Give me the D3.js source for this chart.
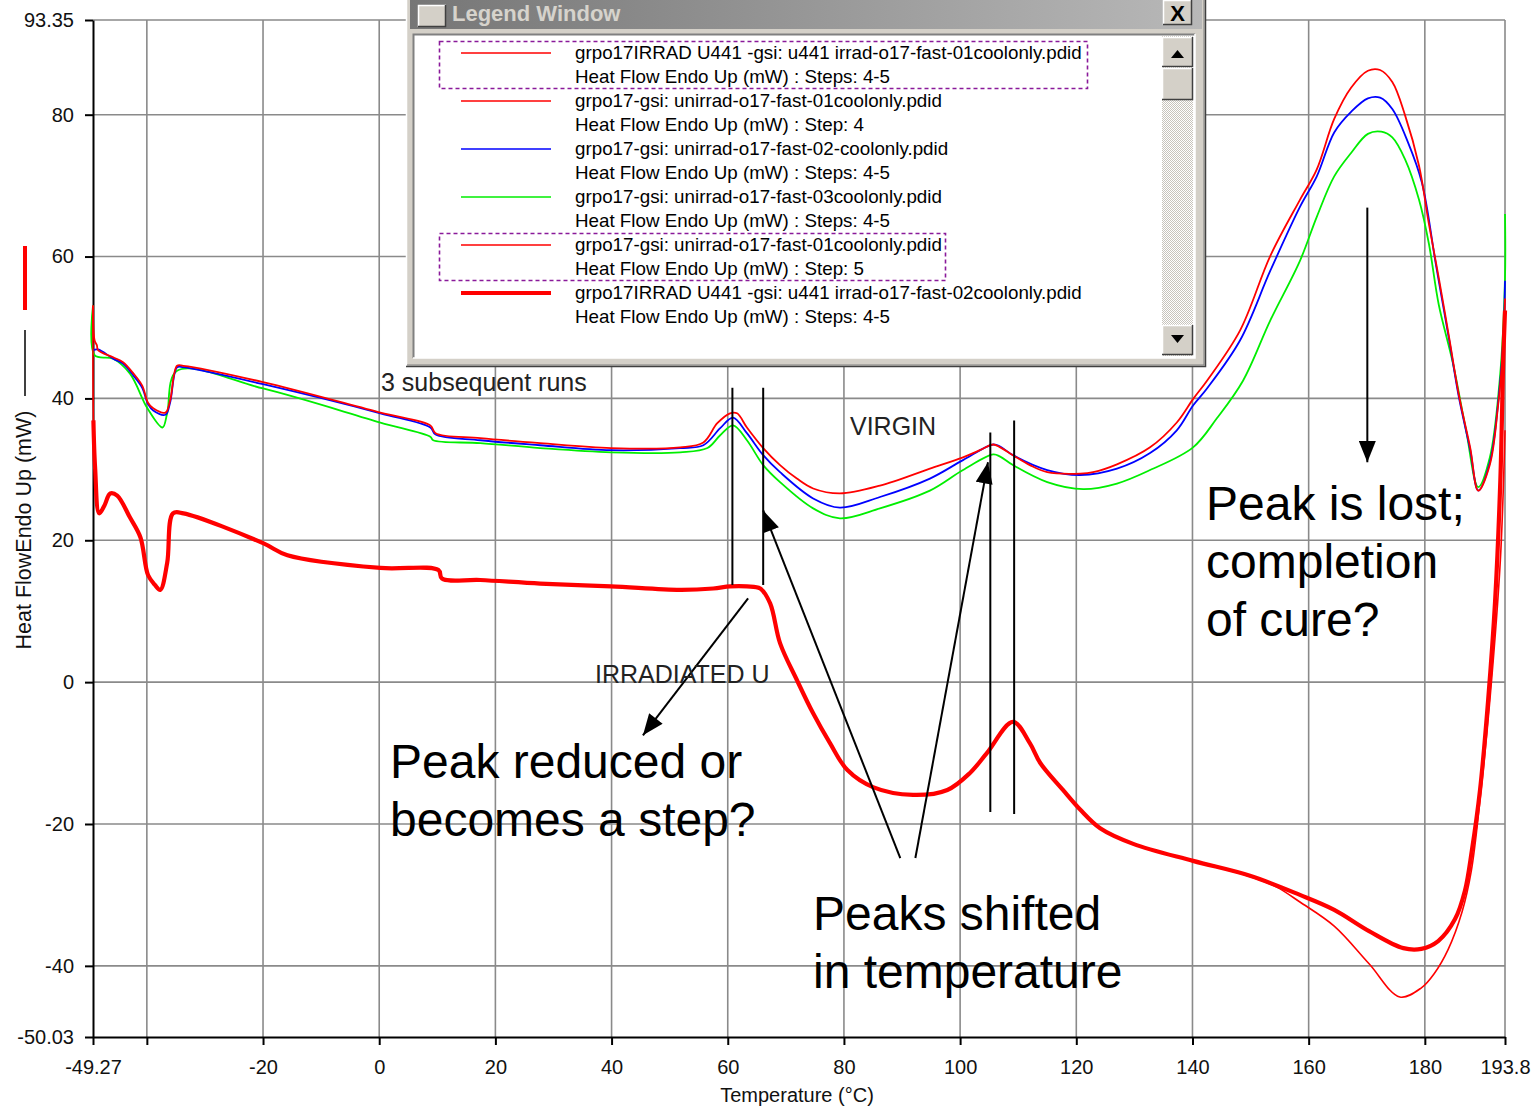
<!DOCTYPE html>
<html><head><meta charset="utf-8">
<script src="https://cdn.jsdelivr.net/npm/d3@7"></script>
<style>
html,body{margin:0;padding:0;background:#fff;}
svg{display:block;}
text{font-family:"Liberation Sans",Arial,sans-serif;}
</style></head>
<body>
<svg id="chart" width="1532" height="1107"></svg>
<script>
// ---------------- DATA ----------------
const xTickValues = [-49.27, -40, -20, 0, 20, 40, 60, 80, 100, 120, 140, 160, 180, 193.8];
const xTickLabels = ["-49.27", "", "-20", "0", "20", "40", "60", "80", "100", "120", "140", "160", "180", "193.8"];
const yTickValues = [-50.03, -40, -20, 0, 20, 40, 60, 80, 93.35];
const yTickLabels = ["-50.03", "-40", "-20", "0", "20", "40", "60", "80", "93.35"];

// [Temperature (°C), Heat Flow (mW)]
const virgin01Step4 = [[-49.27,53.1],[-49.0,48.2],[-48.6,47.5],[-48.4,46.8],[-45.8,45.8],[-44.1,45.1],[-42.3,43.5],[-40.8,41.8],[-39.8,39.4],[-38.9,38.6],[-36.8,38.0],[-36.0,39.7],[-34.8,44.6],[-33.7,44.6],[-20.0,42.3],[0.2,38.0],[8.8,36.2],[9.7,35.1],[17.4,34.4],[27.7,33.7],[39.9,33.0],[51.8,33.1],[55.8,33.8],[58.2,36.5],[60.4,37.9],[61.6,37.9],[63.3,35.9],[66.1,33.0],[69.0,30.6],[71.9,28.7],[74.7,27.3],[79.3,26.6],[86.2,27.7],[94.8,30.1],[100.5,31.7],[103.4,32.7],[105.7,33.5],[106.9,33.1],[109.1,32.0],[112.0,30.6],[115.0,29.6],[120.7,29.4],[122.9,29.6],[127.0,30.7],[132.7,33.1],[137.3,36.6],[140.1,39.9],[142.5,42.5],[148.2,49.6],[153.4,60.1],[158.5,68.0],[161.4,72.3],[164.4,79.4],[167.3,83.8],[170.2,86.2],[172.3,86.3],[174.4,84.6],[176.6,79.9],[179.0,72.8],[180.7,64.6],[182.4,57.0],[184.2,48.5],[185.9,40.3],[187.8,33.1],[189.2,27.0],[191.2,30.7],[192.6,38.9],[193.5,47.5],[193.8,54.1]];
const virgin02 = [[-49.27,46.8],[-48.4,46.9],[-45.8,45.6],[-44.1,44.9],[-42.3,43.2],[-40.8,41.5],[-39.8,39.2],[-38.9,38.3],[-36.8,37.7],[-36.0,39.4],[-34.8,44.4],[-33.7,44.4],[-20.0,42.0],[0.2,37.9],[8.8,35.9],[9.7,34.9],[17.4,34.1],[27.7,33.4],[39.9,32.7],[51.8,33.0],[55.8,33.4],[58.7,35.8],[60.9,37.3],[63.3,35.1],[66.1,32.0],[69.0,29.6],[74.7,25.9],[79.3,24.6],[86.2,26.1],[94.8,28.7],[100.5,31.3],[105.7,33.5],[106.9,33.2],[109.1,32.0],[115.0,29.9],[120.7,29.2],[127.0,30.1],[132.7,32.3],[137.3,35.5],[140.1,39.0],[142.5,41.4],[148.2,48.2],[153.4,58.0],[158.5,67.0],[161.4,71.3],[164.4,77.5],[167.3,80.4],[170.2,82.3],[172.3,82.4],[174.4,80.8],[177.1,76.1],[179.5,70.4],[181.9,58.9],[184.2,48.2],[185.9,40.0],[187.8,32.8],[189.2,27.0],[191.2,31.0],[192.6,39.2],[193.5,48.2],[193.8,56.6]];
const virgin03 = [[-49.27,53.1],[-49.0,46.1],[-45.8,45.6],[-42.9,43.5],[-39.9,38.6],[-37.3,35.9],[-36.5,37.9],[-34.8,43.9],[-20.0,41.4],[0.2,36.6],[8.8,34.6],[9.3,34.1],[17.4,33.7],[27.7,33.0],[39.9,32.4],[51.8,32.4],[56.5,33.0],[58.7,34.8],[60.9,36.2],[63.3,34.1],[66.1,30.6],[69.0,28.2],[74.7,24.5],[79.3,23.1],[86.2,24.5],[94.8,27.0],[100.5,29.9],[105.7,32.1],[106.9,31.8],[109.1,30.6],[115.0,28.2],[121.2,27.2],[127.0,28.0],[132.7,29.9],[140.1,33.1],[144.2,37.2],[148.7,42.5],[153.4,51.0],[158.5,59.4],[161.4,65.6],[164.4,71.3],[167.3,74.6],[170.2,77.3],[172.5,77.6],[174.4,76.8],[176.6,73.7],[179.0,68.0],[180.7,61.8],[182.4,53.2],[184.8,45.1],[187.1,35.5],[189.2,27.5],[191.2,31.7],[192.9,42.7],[193.8,57.0],[193.8,66.0]];
const irrad01 = [[-49.27,53.1],[-49.2,36.9],[-48.9,30.1],[-48.2,23.8],[-47.3,24.9],[-46.3,26.6],[-45.1,26.3],[-42.9,23.2],[-41.1,20.4],[-39.8,15.1],[-38.6,13.7],[-37.7,13.0],[-36.5,16.8],[-35.5,23.8],[-33.7,23.8],[-20.0,19.6],[-15.8,17.9],[0.2,16.1],[10.2,15.8],[10.8,14.6],[17.4,14.4],[27.7,13.9],[39.9,13.5],[51.8,13.0],[57.5,13.2],[60.4,13.5],[63.3,13.5],[65.6,13.2],[67.3,11.1],[69.0,5.5],[71.9,0.3],[74.7,-4.4],[77.6,-8.6],[80.6,-12.4],[85.0,-14.8],[91.9,-15.9],[97.8,-15.2],[101.7,-12.8],[104.6,-10.0],[109.1,-5.6],[112.0,-8.6],[113.8,-11.4],[117.7,-15.2],[120.7,-18.0],[124.1,-20.6],[129.8,-22.8],[140.1,-25.2],[149.9,-27.4],[154.5,-28.9],[158.5,-31.0],[164.4,-34.4],[170.4,-39.7],[175.7,-44.4],[179.4,-43.1],[181.6,-41.1],[184.0,-37.7],[186.4,-32.4],[188.0,-26.6],[189.5,-16.6],[191.2,-2.5],[193.0,17.2],[193.8,35.5]];
const irrad02 = [[-49.2,36.9],[-48.9,30.1],[-48.2,23.8],[-47.3,24.9],[-46.3,26.6],[-45.1,26.3],[-42.9,23.2],[-41.1,20.4],[-39.8,15.1],[-38.6,13.7],[-37.7,13.0],[-36.5,16.8],[-35.5,23.8],[-33.7,23.8],[-20.0,19.6],[-15.8,17.9],[0.2,16.1],[10.2,15.8],[10.8,14.6],[17.4,14.4],[27.7,13.9],[39.9,13.5],[51.8,13.0],[57.5,13.2],[60.4,13.5],[63.3,13.5],[65.6,13.2],[67.3,11.1],[69.0,5.5],[71.9,0.3],[74.7,-4.4],[77.6,-8.6],[80.6,-12.4],[85.0,-14.8],[91.9,-15.9],[97.8,-15.2],[101.7,-12.8],[104.6,-10.0],[109.1,-5.6],[112.0,-8.6],[113.8,-11.4],[117.7,-15.2],[120.7,-18.0],[124.1,-20.6],[129.8,-22.8],[140.1,-25.2],[149.9,-27.3],[158.5,-30.0],[164.4,-32.1],[170.4,-35.1],[176.3,-37.5],[179.4,-37.6],[182.3,-36.5],[185.2,-33.4],[186.9,-29.4],[188.1,-23.7],[189.5,-15.2],[190.9,-2.5],[192.1,11.5],[193.0,28.5],[193.5,45.4],[193.8,52.4]];

const legendNames = [
  "grpo17IRRAD U441 -gsi: u441 irrad-o17-fast-01coolonly.pdid",
  "grpo17-gsi: unirrad-o17-fast-01coolonly.pdid",
  "grpo17-gsi: unirrad-o17-fast-02-coolonly.pdid",
  "grpo17-gsi: unirrad-o17-fast-03coolonly.pdid",
  "grpo17-gsi: unirrad-o17-fast-01coolonly.pdid",
  "grpo17IRRAD U441 -gsi: u441 irrad-o17-fast-02coolonly.pdid"];
const legendSteps = [
  "Heat Flow Endo Up (mW) : Steps: 4-5",
  "Heat Flow Endo Up (mW) : Step: 4",
  "Heat Flow Endo Up (mW) : Steps: 4-5",
  "Heat Flow Endo Up (mW) : Steps: 4-5",
  "Heat Flow Endo Up (mW) : Step: 5",
  "Heat Flow Endo Up (mW) : Steps: 4-5"];
const legendColors = ["#ff0000","#ff0000","#0000ff","#00ee00","#ff0000","#ff0000"];
const legendWidths = [1.5,1.5,1.5,1.5,1.5,4];
const legendBoxed = [true,false,false,false,true,false];

// ---------------- DRAW ----------------
const svg = d3.select("#chart");
const L = 93, R = 1505, T = 20, B = 1037;
const x = d3.scaleLinear().domain([-49.27, 193.8]).range([L, R]);
const y = d3.scaleLinear().domain([-50.03, 93.35]).range([B, T]);

// grid
const grid = svg.append("g");
grid.selectAll("line.v").data(xTickValues.slice(1)).join("line")
  .attr("x1", d => x(d)).attr("x2", d => x(d)).attr("y1", T).attr("y2", B)
  .attr("stroke", "#8a8a8a").attr("stroke-width", 1.6);
grid.selectAll("line.h").data(yTickValues.slice(1)).join("line")
  .attr("x1", L).attr("x2", R).attr("y1", d => y(d)).attr("y2", d => y(d))
  .attr("stroke", "#8a8a8a").attr("stroke-width", 1.6);

// axes
const xAxis = d3.axisBottom(x).tickValues(xTickValues).tickFormat((d, i) => xTickLabels[i]).tickSize(8).tickSizeOuter(0);
const yAxis = d3.axisLeft(y).tickValues(yTickValues).tickFormat((d, i) => yTickLabels[i]).tickSize(8).tickSizeOuter(0);
const gx = svg.append("g").attr("transform", `translate(0,${B})`).call(xAxis);
const gy = svg.append("g").attr("transform", `translate(${L},0)`).call(yAxis);
[gx, gy].forEach(g => {
  g.select(".domain").attr("stroke", "#000").attr("stroke-width", 2);
  g.selectAll(".tick line").attr("stroke", "#000").attr("stroke-width", 2);
  g.selectAll(".tick text").attr("font-family", "Liberation Sans, Arial, sans-serif")
    .attr("font-size", 20).attr("fill", "#111");
});
gx.selectAll(".tick text").attr("dy", "1.3em");
gy.selectAll(".tick text").attr("dx", "-0.4em");

svg.append("text").attr("x", 797).attr("y", 1102).attr("text-anchor", "middle")
  .attr("font-size", 20).attr("fill", "#111").text("Temperature (°C)");
svg.append("text").attr("transform", "translate(31,530) rotate(-90)").attr("text-anchor", "middle")
  .attr("font-size", 21.5).attr("fill", "#111").text("Heat FlowEndo Up (mW)");
svg.append("line").attr("x1", 25).attr("x2", 25).attr("y1", 330).attr("y2", 396).attr("stroke", "#000").attr("stroke-width", 1.5);
svg.append("line").attr("x1", 25).attr("x2", 25).attr("y1", 246).attr("y2", 310).attr("stroke", "#ff0000").attr("stroke-width", 4);

// curves
const line = d3.line().x(d => x(d[0])).y(d => y(d[1])).curve(d3.curveCatmullRom.alpha(0.5));
const curves = svg.append("g").attr("fill", "none").attr("stroke-linejoin", "round");
curves.append("path").datum(virgin03).attr("d", line).attr("stroke", "#00ee00").attr("stroke-width", 1.8);
curves.append("path").datum(virgin02).attr("d", line).attr("stroke", "#0000ff").attr("stroke-width", 1.8);
curves.append("path").datum(virgin01Step4).attr("d", line).attr("stroke", "#ff0000").attr("stroke-width", 1.8);
curves.append("path").datum(irrad01).attr("d", line).attr("stroke", "#ff0000").attr("stroke-width", 1.6);
curves.append("path").datum(irrad02).attr("d", line).attr("stroke", "#ff0000").attr("stroke-width", 4.2);

// annotations
const defs = svg.append("defs");
defs.append("marker").attr("id", "ah").attr("viewBox", "0 0 20 16").attr("refX", 20).attr("refY", 8)
  .attr("markerWidth", 22).attr("markerHeight", 17).attr("markerUnits", "userSpaceOnUse").attr("orient", "auto")
  .append("path").attr("d", "M0,0 L20,8 L0,16 Z").attr("fill", "#000");
const ann = svg.append("g").attr("stroke", "#000").attr("stroke-width", 2);
const vlines = [[60.8, 41.5, 13.7], [66.1, 41.5, 13.7], [105.2, 35.2, -18.3], [109.3, 36.9, -18.6]];
vlines.forEach(v => ann.append("line").attr("x1", x(v[0])).attr("x2", x(v[0])).attr("y1", y(v[1])).attr("y2", y(v[2])));
const arrows = [[63.5, 11.8, 45.4, -7.5], [89.7, -24.8, 66.1, 24.2], [92.3, -24.8, 104.8, 31.0], [170.1, 66.9, 170.1, 31.0]];
arrows.forEach(a => ann.append("line").attr("x1", x(a[0])).attr("y1", y(a[1])).attr("x2", x(a[2])).attr("y2", y(a[3]))
  .attr("marker-end", "url(#ah)"));

const small = [["3 subsequent runs", 381, 391], ["VIRGIN", 850, 435], ["IRRADIATED U", 595, 683]];
small.forEach(s => svg.append("text").attr("x", s[1]).attr("y", s[2]).attr("font-size", 25).attr("fill", "#222").text(s[0]));
const big = [["Peak reduced or", 390, 778], ["becomes a step?", 390, 836], ["Peaks shifted", 813, 930],
  ["in temperature", 813, 988], ["Peak is lost;", 1206, 520], ["completion", 1206, 578], ["of cure?", 1206, 636]];
big.forEach(s => svg.append("text").attr("x", s[1]).attr("y", s[2]).attr("font-size", 48).attr("fill", "#000").text(s[0]));

// ---------------- LEGEND WINDOW ----------------
const lw = svg.append("g");
const grad = defs.append("linearGradient").attr("id", "tb");
grad.append("stop").attr("offset", "0").attr("stop-color", "#767676");
grad.append("stop").attr("offset", "1").attr("stop-color", "#b8b8b8");
const pat = defs.append("pattern").attr("id", "hatch").attr("width", 2).attr("height", 2).attr("patternUnits", "userSpaceOnUse");
pat.append("rect").attr("width", 2).attr("height", 2).attr("fill", "#ffffff");
pat.append("rect").attr("width", 1).attr("height", 1).attr("fill", "#c8c4bc");
pat.append("rect").attr("x", 1).attr("y", 1).attr("width", 1).attr("height", 1).attr("fill", "#c8c4bc");

function bevel(g, x0, y0, w, h, raised) {
  const lt = raised ? "#ffffff" : "#808080", rb = raised ? "#404040" : "#ffffff";
  g.append("rect").attr("x", x0).attr("y", y0).attr("width", w).attr("height", h).attr("fill", "#d4d0c8");
  g.append("path").attr("d", `M${x0 + 0.5},${y0 + h}V${y0 + 0.5}H${x0 + w}`).attr("stroke", lt).attr("fill", "none").attr("stroke-width", 1.5);
  g.append("path").attr("d", `M${x0 + w - 0.5},${y0}V${y0 + h - 0.5}H${x0}`).attr("stroke", rb).attr("fill", "none").attr("stroke-width", 1.5);
}
bevel(lw, 406, -10, 800, 377, true);
lw.append("path").attr("d", "M1204,-10V365H407").attr("stroke", "#808080").attr("fill", "none").attr("stroke-width", 1);
lw.append("rect").attr("x", 410).attr("y", -6).attr("width", 792).attr("height", 35).attr("fill", "url(#tb)");
bevel(lw, 418, 5, 28, 22, true);
lw.append("text").attr("x", 452).attr("y", 21).attr("font-size", 22).attr("font-weight", "bold")
  .attr("fill", "#d6d3cc").text("Legend Window");
bevel(lw, 1163, 0, 29, 25, true);
lw.append("text").attr("x", 1177.5).attr("y", 21).attr("text-anchor", "middle").attr("font-size", 22)
  .attr("font-weight", "bold").attr("fill", "#000").text("X");
// client area
lw.append("rect").attr("x", 413).attr("y", 34).attr("width", 782).attr("height", 324).attr("fill", "#fff");
lw.append("path").attr("d", "M413.5,358V34.5H1195").attr("stroke", "#808080").attr("fill", "none").attr("stroke-width", 2);
lw.append("path").attr("d", "M1195,34V358H413").attr("stroke", "#ffffff").attr("fill", "none").attr("stroke-width", 1.5);
lw.append("rect").attr("x", 1162).attr("y", 36).attr("width", 31).attr("height", 320).attr("fill", "url(#hatch)");
bevel(lw, 1162, 37, 31, 30, true);
lw.append("path").attr("d", "M1171,58L1177.5,50L1184,58Z").attr("fill", "#000");
bevel(lw, 1162, 68, 31, 32, true);
bevel(lw, 1162, 325, 31, 30, true);
lw.append("path").attr("d", "M1171,335L1184,335L1177.5,343Z").attr("fill", "#000");

const ent = lw.append("g");
const tg = ent.append("g");
const lfont = "'Liberation Sans Narrow','DejaVu Sans Condensed','Arial Narrow',sans-serif";
legendNames.forEach((n, i) => {
  const cy = 53 + i * 48;
  ent.append("line").attr("x1", 461).attr("x2", 551).attr("y1", cy).attr("y2", cy)
    .attr("stroke", legendColors[i]).attr("stroke-width", legendWidths[i]);
  tg.append("text").attr("x", 0).attr("y", cy + 6).attr("font-size", 17.5).attr("fill", "#000")
    .attr("font-family", lfont).text(n);
  tg.append("text").attr("x", 0).attr("y", cy + 30).attr("font-size", 17.5).attr("fill", "#000")
    .attr("font-family", lfont).text(legendSteps[i]);
  if (legendBoxed[i]) {
    ent.append("rect").attr("x", 439.5).attr("y", cy - 11.5).attr("width", i === 0 ? 648 : 506).attr("height", 47)
      .attr("fill", "none").attr("stroke", "#8a1a9a").attr("stroke-width", 1.6).attr("stroke-dasharray", "4,3");
  }
});
const natural = tg.select("text").node().getComputedTextLength();
const k = 507 / natural;
tg.attr("transform", `translate(575,0) scale(${k},1)`);
</script>
</body></html>
